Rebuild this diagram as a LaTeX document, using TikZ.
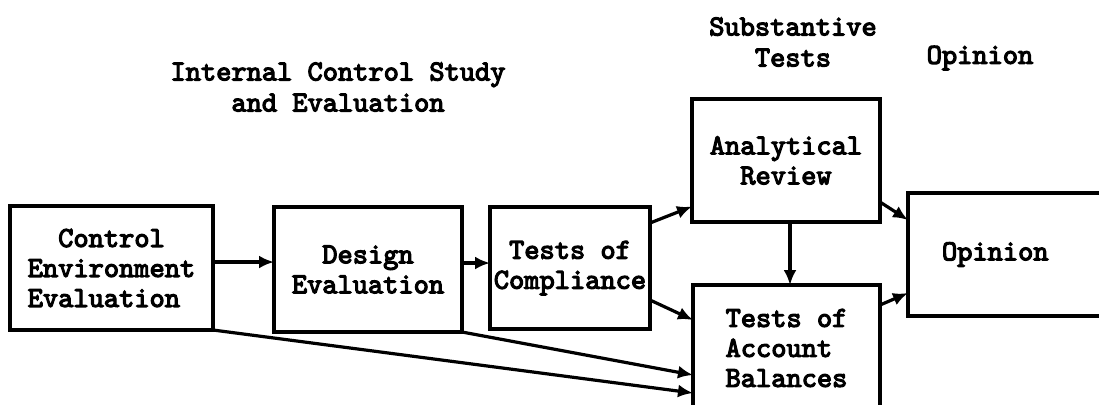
\documentclass[tikz,border=0pt]{standalone}
\usepackage{fontspec}
\usetikzlibrary{arrows.meta}

% heavy typewriter face
\newfontfamily\typer{lmmono10-regular.otf}[FakeBold=4]

\tikzset{
  box/.style={draw, line width=1.6pt, inner sep=0pt, outer sep=0pt, align=center,
              font=\typer\fontsize{14.5}{15}\selectfont},
  head/.style={inner sep=0pt, align=center, font=\typer\fontsize{14.5}{15.5}\selectfont},
  arr/.style={line width=1.6pt, -{Latex[length=7.5pt,width=6.5pt]}},
}

\begin{document}
\begin{tikzpicture}[x=0.5pt, y=-0.5pt]
  \useasboundingbox (0,0) rectangle (1099,404);
  \clip (0,0) rectangle (1099,404);

  % column headings
  \node[head] (hic) at (338,87) {Internal Control Study\\and Evaluation};
  \node[head] (hst) at (793,42) {Substantive\\Tests};
  \node[head] (hop) at (980,58) {Opinion};

  % process boxes
  \node[box, minimum width=101.5pt, minimum height=62pt, align=left] (ce) at (111.5,268)
    {\phantom{Co}Control\\Environment\\Evaluation};
  \node[box, minimum width=94pt, minimum height=62.5pt] (de) at (368,269.5)
    {Design\\Evaluation};
  \node[box, minimum width=80pt, minimum height=61pt] (tc) at (570,268)
    {Tests of\\Compliance};
  \node[box, minimum width=94pt, minimum height=61.5pt] (ar) at (786,160.5)
    {Analytical\\Review};
  \node[box, minimum width=93.5pt, minimum height=63pt, align=left] (tab) at (786.5,348)
    {Tests of\\Account\\Balances};
  \node[box, anchor=west, text width=66pt, inner xsep=17pt, minimum height=61.5pt, align=left]
    (op) at (908,254.5) {Opinion};

  % flow connectors
  \draw[arr] ([yshift=3pt]ce.east) -- ([yshift=3pt]ce.east -| de.west);
  \draw[arr] ([yshift=3.25pt]de.east) -- ([yshift=3.25pt]de.east -| tc.west);
  \draw[arr] ([yshift=22.5pt]tc.east) -- ([yshift=-23pt]ar.west);
  \draw[arr] ([yshift=-16pt]tc.east) -- ([yshift=14pt]tab.west);
  \draw[arr] (de.south east) -- ([yshift=-13.5pt]tab.west);
  \draw[arr] (ce.south east) -- ([yshift=-22.5pt]tab.west);
  \draw[arr] ([xshift=2pt]ar.south) -- ([xshift=2pt]ar.south |- tab.north);
  \draw[arr] ([yshift=-20.75pt]ar.east) -- ([yshift=17.25pt]op.west);
  \draw[arr] ([yshift=21.5pt]tab.east) -- ([yshift=-19.25pt]op.west);
\end{tikzpicture}
\end{document}
